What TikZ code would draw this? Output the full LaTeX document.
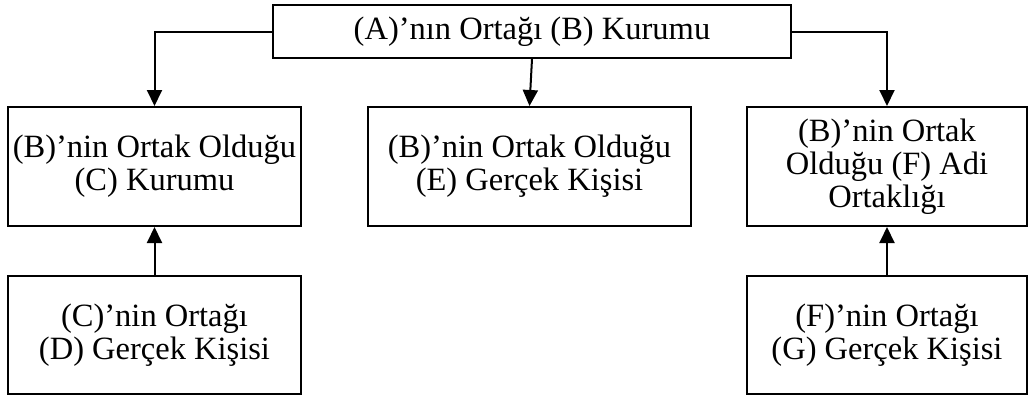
\documentclass[tikz,border=0pt]{standalone}
\usepackage{fontspec}
\setmainfont{Liberation Serif}
\usetikzlibrary{arrows.meta}
\begin{document}
\begin{tikzpicture}[x=1pt,y=-1pt,
  box/.style={draw, line width=2pt, rectangle, align=center, inner sep=0pt,
    font=\fontsize{32.5pt}{33pt}\selectfont},
  link/.style={line width=2pt, -{Triangle[length=16pt,width=15pt]}}]
\useasboundingbox (0,0) rectangle (1029,397);
\fill[white] (0,0) rectangle (1029,397);

% top entity
\node[box, minimum width=518pt, minimum height=53pt] (a) at (532,31.5)
  {(A)’nın Ortağı (B) Kurumu};

% second row
\node[box, minimum width=293pt, minimum height=119pt] (c) at (154.5,166.5)
  {(B)’nin Ortak Olduğu\\(C) Kurumu};
\node[box, minimum width=323pt, minimum height=119pt] (e) at (529.5,166.5)
  {(B)’nin Ortak Olduğu\\(E) Gerçek Kişisi};
\node[box, minimum width=280pt, minimum height=119pt] (f) at (887,166.5)
  {(B)’nin Ortak\\Olduğu (F) Adi\\Ortaklığı};

% third row
\node[box, minimum width=293pt, minimum height=118pt] (d) at (154.5,335)
  {(C)’nin Ortağı\\(D) Gerçek Kişisi};
\node[box, minimum width=280pt, minimum height=118pt] (g) at (887,335)
  {(F)’nin Ortağı\\(G) Gerçek Kişisi};

% connectors
\draw[link] (a.west) -| (c.north);
\draw[link] (a.east) -| (f.north);
\draw[link] (a.south) -- (e.north);
\draw[link] (d.north) -- (c.south);
\draw[link] (g.north) -- (f.south);
\end{tikzpicture}
\end{document}
